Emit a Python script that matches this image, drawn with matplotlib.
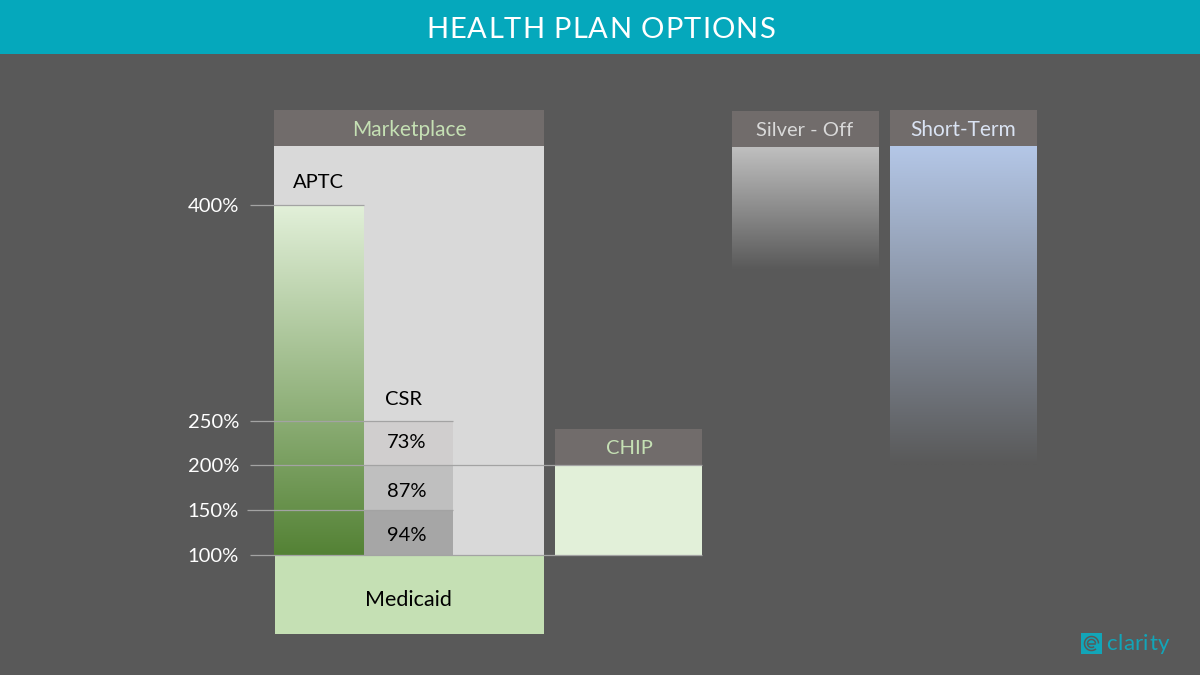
import numpy as np
import matplotlib
matplotlib.use("Agg")
import matplotlib.pyplot as plt
from matplotlib.colors import LinearSegmentedColormap
from matplotlib.patches import Rectangle, Arc

plt.rcParams['font.family'] = ['Lato', 'DejaVu Sans']

# ---- data ----
TITLE = "HEALTH PLAN OPTIONS"
FPL_LEVELS = [100, 150, 200, 250, 400]
FPL_LABELS = ["100%", "150%", "200%", "250%", "400%"]
FPL_PIXELS = [555, 510, 465, 421, 205]
APTC_TOP = 400
CHIP_TOP = 200
SHORT_TERM_BOTTOM = 200
CSR_EDGES = [250, 200, 150, 100]
CSR_LABELS = ["73%", "87%", "94%"]
CSR_COLORS = ["#D0CECE", "#BFBFBF", "#A6A6A6"]
CSR_LABEL_SHIFT = [0, 5, 4]

BG = "#595959"
HEAD = "#716C6B"
LINE = "#A3A3A3"


def y_of(fpl):
    """Piecewise scale of the original slide: income level -> vertical position."""
    return float(np.interp(fpl, FPL_LEVELS, FPL_PIXELS))


fig = plt.figure(figsize=(12, 6.75), dpi=100, facecolor=BG)
ax = fig.add_axes([0, 0, 1, 1])
ax.set_facecolor(BG)
ax.set_xlim(0, 1200)
ax.set_ylim(675, 0)
ax.axis("off")


def rect(x0, x1, y0, y1, color, z=2):
    ax.add_patch(Rectangle((x0, y0), x1 - x0, y1 - y0, fc=color, ec="none", zorder=z))


def grad(x0, x1, y0, y1, c0, c1, z=3):
    cm = LinearSegmentedColormap.from_list("g", [c0, c1])
    ax.imshow(np.linspace(0, 1, 256)[:, None], cmap=cm, aspect="auto",
              extent=(x0, x1, y1, y0), zorder=z, interpolation="bilinear")


def label(x, y, s, color="black", size=15):
    ax.text(x, y + 1.5, s, color=color, fontsize=size, ha="center", va="center", zorder=8)


def tracked(x0, x1, y, s, color, size, **kw):
    """Lay the letters of s out evenly between x0 and x1 (letter-spaced text)."""
    r = fig.canvas.get_renderer()
    def width(t):
        if not t:
            return 0.0
        tt = ax.text(0, 0, t.replace(" ", "i"), fontsize=size, **kw)
        w = tt.get_window_extent(r).width
        tt.remove()
        return w
    natural = width(s)
    extra = (x1 - x0 - natural) / (len(s) - 1)
    for i, ch in enumerate(s):
        if ch != " ":
            ax.text(x0 + width(s[:i]) + extra * i, y, ch, color=color, fontsize=size,
                    ha="left", va="center_baseline", zorder=8, **kw)


# title bar
rect(0, 1200, 0, 54, "#05A8BC")
tracked(426, 775, 28, TITLE, "white", 21)

# Marketplace
base = y_of(100)
rect(274, 544, 110, 146, HEAD)
rect(274, 544, 146, base, "#D9D9D9")
label(409, 128, "Marketplace", "#C5E0B4")
grad(274, 364, y_of(APTC_TOP), base, "#E2F0D9", "#548235")
label(318, 181, "APTC", size=14.5)

# CSR tiers
for top, bot, col, txt, dy in zip(CSR_EDGES[:-1], CSR_EDGES[1:], CSR_COLORS, CSR_LABELS, CSR_LABEL_SHIFT):
    rect(364, 453, y_of(top), y_of(bot), col, 3)
    label(407, (y_of(top) + y_of(bot)) / 2 - 2.5 + dy, txt, size=14.5)
label(404, 398, "CSR", size=14.5)

# Medicaid
rect(275, 544, base, 634, "#C5E0B4")
label(408, 598, "Medicaid", size=15.5)

# CHIP
rect(555, 702, 429, y_of(CHIP_TOP), HEAD)
rect(555, 702, y_of(CHIP_TOP), base, "#E2F0D9")
label(629, 447, "CHIP", "#C5E0B4", size=14.5)

# Silver - Off
rect(732, 879, 111, 147, HEAD)
label(805, 129, "Silver - Off", "#D9D9D9", size=14.5)
grad(732, 879, 147, 270, "#BFBFBF", BG)

# Short-Term
rect(890, 1037, 110, 146, HEAD)
label(963, 128, "Short-Term", "#DAE3F3", size=15)
grad(890, 1037, 146, y_of(SHORT_TERM_BOTTOM), "#B4C7E7", BG)

# reference lines and tick labels
line_ends = {100: 702, 150: 453, 200: 702, 250: 453, 400: 364}
for lev, txt in zip(FPL_LEVELS, FPL_LABELS):
    y = y_of(lev)
    x0 = 247 if lev == 150 else 250
    ax.plot([x0, line_ends[lev]], [y, y], color=LINE, lw=0.9, zorder=6,
            solid_capstyle="butt")
    ax.text(239, y + 1.5, txt, color="white", fontsize=14.5, ha="right", va="center", zorder=8)

# logo
TEAL = "#12A5B8"
rect(1081, 1102, 633, 654, TEAL)
for d in (14, 8):
    ax.add_patch(Arc((1091.5, 643.5), d, d, theta1=50, theta2=360, color=BG, lw=1.1, zorder=8))
ax.plot([1088, 1095], [643.5, 643.5], color=BG, lw=1.1, zorder=8)
tracked(1106, 1169, 642, "clarity", TEAL, 16)

ax.set_xlim(0, 1200)
ax.set_ylim(675, 0)
fig.savefig("out.png", dpi=100, facecolor=BG)
